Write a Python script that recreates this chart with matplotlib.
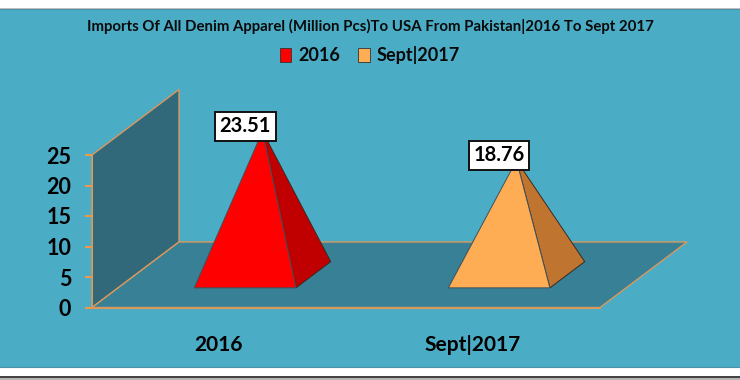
import matplotlib
matplotlib.use('Agg')
import matplotlib.pyplot as plt
from matplotlib.patches import Polygon, Patch, Rectangle

plt.rcParams['font.family'] = ['Lato', 'DejaVu Sans']
plt.rcParams['font.weight'] = 'bold'

categories = ['2016', 'Sept|2017']
values = [23.51, 18.76]
face_colors = ['#FF0000', '#FFAD55']
side_colors = ['#C00000', '#BF7430']
y_ticks = [0, 5, 10, 15, 20, 25]

title = 'Imports Of All Denim Apparel (Million Pcs)To USA From Pakistan|2016 To Sept 2017'

W, H = 740, 380
PX_PER_CAT = 254.0
PX_PER_VAL = 6.1
X0_PX, Y0_PX = 219.0, 307.5
DEPTH_X = 87.0 / PX_PER_CAT
DEPTH_Y = 65.5 / PX_PER_VAL
LINE = '#D9985C'

def proj(x, v, d):
    # d is depth into the chart, 0 = front, 1 = back
    return (x + d * DEPTH_X, v + d * DEPTH_Y)

fig = plt.figure(figsize=(W / 100, H / 100), dpi=100, facecolor='white')
ax = fig.add_axes([0, 0, 1, 1], facecolor='none')
ax.set_xlim(-X0_PX / PX_PER_CAT, (W - X0_PX) / PX_PER_CAT)
ax.set_ylim((Y0_PX - H) / PX_PER_VAL, Y0_PX / PX_PER_VAL)

# panel and the window lines around it
fig.add_artist(Rectangle((-0.01, 1 - 367 / H), 1.02, 358 / H, transform=fig.transFigure,
                         fc='#4BACC6', ec='#4A93A8', lw=0.8, zorder=-2))
fig.add_artist(Rectangle((0, 1 - 8.8 / H), 1, 1.2 / H, transform=fig.transFigure,
                         fc='#BDBDBD', ec='none', zorder=-2))
fig.add_artist(Rectangle((0, 0), 1, 3.5 / H, transform=fig.transFigure,
                         fc='#B5B5B5', ec='none', zorder=-2))
fig.add_artist(Rectangle((0, 1 - 377.5 / H), 1, 1.5 / H, transform=fig.transFigure,
                         fc='#444444', ec='none', zorder=-2))

left, right = -0.5, len(categories) - 0.5
top = y_ticks[-1]

# side wall and floor
wall = [proj(left, 0, 0), proj(left, top, 0), proj(left, top, 1), proj(left, 0, 1)]
floor = [proj(left, 0, 0), proj(right, 0, 0), proj(right, 0, 1), proj(left, 0, 1)]
ax.add_patch(Polygon(wall, fc='#31697A', ec=LINE, lw=1, zorder=1))
ax.add_patch(Polygon(floor, fc='#378096', ec=LINE, lw=1, zorder=1))

# pyramids
for i, v in enumerate(values):
    apex = proj(i, v, 0.5)
    fl = proj(i - 0.2, 0, 0.3)
    fr = proj(i + 0.2, 0, 0.3)
    br = proj(i + 0.2, 0, 0.7)
    ax.add_patch(Polygon([fr, br, apex], fc=side_colors[i], ec='#3A2A20', lw=0.7, zorder=3))
    ax.add_patch(Polygon([fl, fr, apex], fc=face_colors[i], ec='#40505A', lw=0.7, zorder=4))
    ax.annotate(f'{v:.2f}', xy=apex, xytext=(-12.3, 3.6), textcoords='offset points',
                ha='center', va='center', fontsize=14.5, color='black', zorder=6,
                bbox=dict(boxstyle='square,pad=0.22', fc='white', ec='#111111', lw=1.4))

for s in ['top', 'right']:
    ax.spines[s].set_visible(False)
ax.spines['left'].set_position(('data', left))
ax.spines['left'].set_bounds(0, top)
ax.spines['bottom'].set_position(('data', 0))
ax.spines['bottom'].set_bounds(left, right)
ax.spines['left'].set_color(LINE)
ax.spines['bottom'].set_color(LINE)
ax.spines['left'].set_zorder(2)
ax.spines['bottom'].set_zorder(2)

ax.set_yticks(y_ticks)
ax.tick_params(axis='y', length=5, width=1.4, color='#F79646', pad=10, labelsize=15.5)
ax.set_xticks(range(len(categories)), categories)
ax.tick_params(axis='x', length=0, pad=20, labelsize=15)

ax.text(0.5, 1 - 26 / H, title, transform=ax.transAxes, ha='center', va='center',
        fontsize=10.8, color='#0A0A0A')

handles = [Patch(fc=c, ec='#333333', lw=0.6) for c in face_colors]
ax.legend(handles, categories, loc='center', bbox_to_anchor=(370 / W, 1 - 55 / H),
          ncol=2, frameon=False, fontsize=13, handlelength=0.62, handleheight=0.85,
          handletextpad=0.4, columnspacing=1.0, borderpad=0, labelcolor='#0A0A0A')

fig.savefig('out.png', dpi=100)
